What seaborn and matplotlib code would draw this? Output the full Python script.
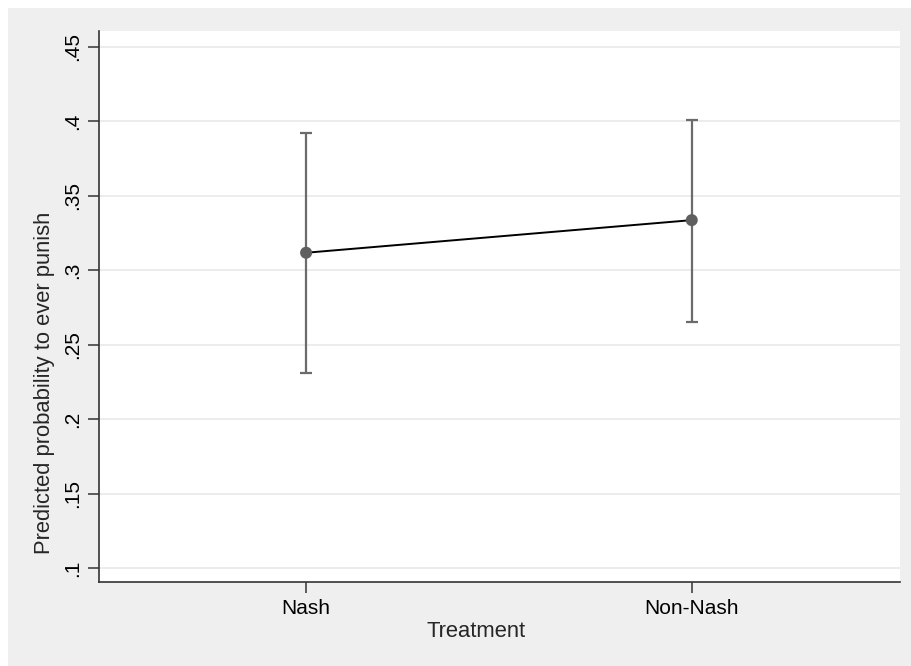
import numpy as np
import pandas as pd
import matplotlib
matplotlib.use("Agg")
import matplotlib.pyplot as plt
import seaborn as sns
from matplotlib.patches import Rectangle

# --- data ---
treatments = ["Nash", "Non-Nash"]
predicted = [0.3117, 0.3336]
ci_low = [0.2308, 0.2652]
ci_high = [0.3924, 0.4011]
yticks = [0.1, 0.15, 0.2, 0.25, 0.3, 0.35, 0.4, 0.45]
ytick_labels = [".1", ".15", ".2", ".25", ".3", ".35", ".4", ".45"]

df = pd.DataFrame({
    "treatment": treatments,
    "pos": range(len(treatments)),
    "pred": predicted,
    "lo": ci_low,
    "hi": ci_high,
})

sns.set_style("white")
plt.rcParams["font.family"] = ["Liberation Sans", "DejaVu Sans"]

fig = plt.figure(figsize=(9.11, 6.66), dpi=100, facecolor="white")
# stata-like grey outer region
fig.patches.append(Rectangle((8 / 911, 0), 1, (666 - 8) / 666,
                             transform=fig.transFigure, facecolor="#EFEFEF",
                             edgecolor="none", zorder=-10))
ax = fig.add_axes([99 / 911, (666 - 582) / 666, (900 - 99) / 911, (582 - 31) / 666])
ax.set_facecolor("white")

grey = "#6B6B6B"
ax.errorbar(df["pos"], df["pred"],
            yerr=[df["pred"] - df["lo"], df["hi"] - df["pred"]],
            fmt="none", ecolor=grey, elinewidth=1.6, capsize=4.5, capthick=1.6, zorder=2)
sns.lineplot(data=df, x="pos", y="pred", color="black", linewidth=1.4, ax=ax, zorder=3)
sns.scatterplot(data=df, x="pos", y="pred", color="#5F5F5F", s=75, edgecolor="none",
                ax=ax, zorder=4)

ax.set_xlim(-0.537, 1.54)
ax.set_ylim(0.0906, 0.4606)
ax.set_xticks(df["pos"])
ax.set_xticklabels(treatments, fontsize=15)
ax.set_yticks(yticks)
ax.set_yticklabels(ytick_labels, fontsize=15, rotation=90, va="center")
ax.yaxis.grid(True, color="#EAEAEA", linewidth=1.3)
ax.set_axisbelow(True)

ax.set_xlabel("Treatment", fontsize=15.8)
ax.set_ylabel("Predicted probability to ever punish", fontsize=15.8)
ax.xaxis.set_label_coords(0.4707, -0.071)
ax.yaxis.set_label_coords(-0.0545, 0.361)

for side in ["top", "right"]:
    ax.spines[side].set_visible(False)
for side in ["left", "bottom"]:
    ax.spines[side].set_color("#333333")
    ax.spines[side].set_linewidth(1.2)
ax.tick_params(axis="both", direction="out", length=8, width=1.1, color="#333333",
               left=True, bottom=True, pad=4, labelcolor="black")

plt.savefig("out.png", dpi=100, facecolor=fig.get_facecolor())
plt.close()
